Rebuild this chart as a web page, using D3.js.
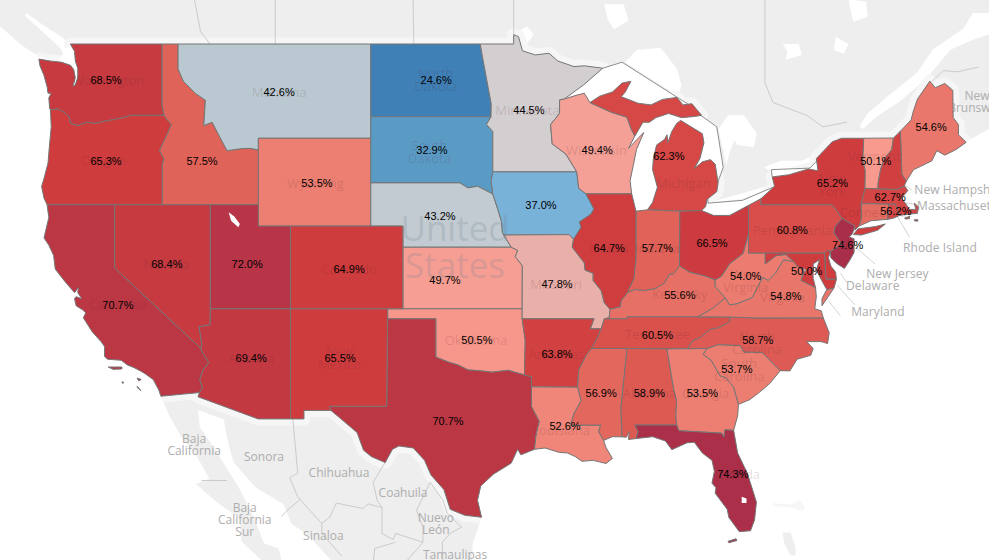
<!DOCTYPE html>
<html>
<head>
<meta charset="utf-8">
<title>US states map</title>
<script src="https://cdn.jsdelivr.net/npm/d3@7"></script>
<style>
	html, body { margin: 0; background: #fff; overflow: hidden; }
	svg { display: block; }
</style>
</head>
<body>
<script>
// values per state, parallel arrays. null label position = no printed label
const stateCodes = ["WA","OR","ID","MT","WY","ND","SD","NE","KS","OK","TX","MN","IA","MO","AR","LA","WI","IL","MI","IN","OH","KY","TN","MS","AL","GA","FL","SC","NC","VA","WV","PA","NY","VT","ME","MA","CT","NJ","CA","NV","UT","CO","AZ","NM","NH","RI","DE","MD","DC"];
const stateValues = [68.5,65.3,57.5,42.6,53.5,24.6,32.9,43.2,49.7,50.5,70.7,44.5,37.0,47.8,63.8,52.6,49.4,64.7,62.3,57.7,66.5,55.6,60.5,56.9,58.9,53.5,74.3,53.7,58.7,54.8,54.0,60.8,65.2,50.1,54.6,62.7,56.2,74.6,70.7,68.4,72.0,64.9,69.4,65.5,64,62,65,65.5,50.0];
const labelLon = [-120.54,-120.54,-114.56,-109.76,-107.4,-99.98,-100.24,-99.74,-99.43,-97.44,-99.24,-94.2,-93.45,-92.45,-92.45,-91.95,-89.95,-89.2,-85.48,-86.2,-82.8,-84.8,-86.2,-89.7,-86.7,-83.4,-81.5,-81.25,-79.95,-78.2,-80.7,-77.8,-75.3,-72.6,-69.15,-71.7,-71.35,-74.35,-119.8,-116.75,-111.75,-105.4,-111.5,-105.96,null,null,null,null,-76.9];
const labelLat = [47.5,44.0,44.0,47.0,43.0,47.5,44.47,41.48,38.4,35.43,31.2,46.23,42.0,38.2,34.72,30.95,44.47,39.95,44.2,39.95,40.2,37.7,35.7,32.7,32.7,32.7,28.35,33.95,35.43,37.65,38.6,40.8,43.0,44.0,45.5,42.35,41.7,40.1,37.2,39.2,39.2,38.95,34.5,34.5,null,null,null,null,38.85];

// fill colour stops
const colorStops = [24.6,33,37,42.6,44.5,47.8,50.1,53.5,57.5,60.8,65,68.5,70.7,72,74.5];
const colorRange = ["#3f81b7","#5a9bc6","#79b2d8","#bac9d1","#d3cfd0","#e9afa9","#f99a8e","#ec7f72","#e06359","#d94e4a","#cf3c3e","#c63a40","#bc3744","#b83548","#aa2e49"];

// shared border lines, lon/lat
const waCoast = [[-122.76,49],[-122.5,48.7],[-122.45,48.3],[-122.3,48],[-122.3,47.6],[-122.45,47.3],[-122.6,47.25],[-122.45,47.6],[-122.55,47.95],[-122.75,48.12],[-123.3,48.25],[-124,48.3],[-124.72,48.38],[-124.65,48.1],[-124.4,47.7],[-124.2,47.2],[-124.15,46.95],[-123.95,46.95],[-124.1,46.75],[-124.05,46.3],[-124,46.25]];
const orWa = [[-124,46.25],[-123.5,46.27],[-123.2,46.15],[-122.85,45.95],[-122.75,45.65],[-122.3,45.55],[-121.7,45.7],[-121.2,45.65],[-120.6,45.75],[-120,45.82],[-119.3,45.93],[-119,46],[-116.92,46]];
const waId = [[-117.04,49],[-117.04,46.42],[-116.92,46]];
const snake = [[-116.92,46],[-116.78,45.85],[-116.47,45.6],[-116.68,45.25],[-116.85,45],[-117.2,44.45],[-117.05,44.25],[-116.93,44.1],[-117.03,43.83],[-117.03,42]];
const orCoast = [[-124,46.25],[-123.95,45.5],[-124.07,44.6],[-124.15,43.9],[-124.4,43.2],[-124.55,42.84],[-124.4,42.3],[-124.21,42]];
const caCoast = [[-124.21,42],[-124.1,41.4],[-124.4,40.44],[-124.1,40.1],[-123.8,39.6],[-123.7,38.95],[-123.05,38.3],[-122.5,37.8],[-122.25,38.05],[-122.3,37.8],[-122.05,37.5],[-122.4,37.6],[-122.5,37.5],[-122.4,37.15],[-122,36.95],[-121.8,36.8],[-121.95,36.55],[-121.4,35.85],[-120.85,35.35],[-120.63,35.1],[-120.63,34.6],[-120.45,34.45],[-119.6,34.4],[-119.2,34.15],[-118.8,34.02],[-118.4,33.85],[-118.1,33.7],[-117.6,33.4],[-117.25,32.85],[-117.12,32.53]];
const caMex = [[-117.12,32.53],[-114.72,32.72]];
const coloRiver = [[-114.72,32.72],[-114.53,33],[-114.7,33.4],[-114.5,33.9],[-114.14,34.28],[-114.57,34.85],[-114.63,35]];
const nvAz = [[-114.63,35],[-114.57,35.2],[-114.74,36.1],[-114.05,36.2],[-114.04,37]];
const caNv = [[-114.63,35],[-120,39],[-120,42]];
const azMex = [[-114.72,32.72],[-114.81,32.5],[-111.07,31.33],[-109.05,31.33]];
const idMt = [[-116.05,49],[-116.05,47.97],[-115.72,47.45],[-114.95,46.93],[-114.35,46.65],[-114.45,45.56],[-113.93,45.7],[-113.45,45.05],[-113,44.45],[-112,44.55],[-111.5,44.55],[-111.05,44.48]];
const mtWy = [[-104.05,45],[-111.05,45],[-111.05,44.48]];
const sdNd = [[-104.05,45.94],[-96.56,45.94]];
const ndMn = [[-97.23,49],[-97.1,48.5],[-96.85,47.6],[-96.55,46.5],[-96.56,45.94]];
const sdMn = [[-96.56,45.94],[-96.84,45.6],[-96.45,45.3],[-96.45,43.5]];
const sdIa = [[-96.45,43.5],[-96.55,43.1],[-96.45,42.49]];
const sdNe = [[-96.45,42.49],[-97.4,42.85],[-98,42.77],[-98.5,43],[-104.05,43]];
const neIa = [[-96.45,42.49],[-96.1,41.7],[-95.9,41.2],[-95.85,40.7],[-95.77,40.58]];
const neMo = [[-95.77,40.58],[-95.3,40]];
const ks40 = [[-95.3,40],[-102.05,40]];
const ksMo = [[-95.3,40],[-94.9,39.85],[-95.05,39.55],[-94.61,39.11],[-94.62,37]];
const redRiver = [[-100,34.56],[-99.2,34.3],[-98.6,34.15],[-98,33.9],[-97.2,33.85],[-96.5,33.78],[-95.5,33.88],[-94.48,33.64]];
const okAr = [[-94.62,36.5],[-94.43,35.4],[-94.48,33.64]];
const txLa = [[-94.04,33.02],[-94.04,32],[-93.55,31.2],[-93.75,30.5],[-93.85,29.7]];
const txCoast = [[-93.85,29.7],[-94.7,29.4],[-94.9,29.7],[-95.3,28.95],[-96.4,28.35],[-97.2,27.7],[-97.4,26.9],[-97.15,25.96]];
const rio = [[-97.15,25.96],[-98.2,26.07],[-99.1,26.4],[-99.5,27.5],[-100.3,28.3],[-100.7,29.1],[-101.4,29.77],[-102.3,29.88],[-102.7,29.7],[-103.15,28.98],[-104,29.3],[-104.5,29.65],[-104.9,30.6],[-106,31.4],[-106.53,31.78]];
const arTn = [[-89.7,36],[-89.95,35.5],[-90.3,35]];
const arMs = [[-90.3,35],[-90.6,34.7],[-91.1,33.9],[-91.17,33]];
const laMs = [[-91.17,33],[-90.95,32.3],[-91.4,31.6],[-91.6,31]];
const msLa = [[-89.55,30.18],[-89.85,30.65],[-89.73,31],[-91.6,31]];
const laCoast = [[-93.85,29.7],[-93.2,29.77],[-92.3,29.53],[-91.8,29.5],[-91.3,29.3],[-90.9,29.05],[-90.2,29.1],[-89.4,28.93],[-89,29.2],[-89.4,29.8],[-89.55,30.18]];
const moIl = [[-91.42,40.38],[-91.5,40],[-90.75,39.25],[-90.7,38.9],[-90.2,38.75],[-90.2,38.4],[-89.7,37.9],[-89.5,37.3],[-89.15,36.97]];
const iaWi = [[-91.22,43.5],[-91.1,42.75],[-90.65,42.5]];
const iaIl = [[-90.65,42.5],[-90.15,41.8],[-90.35,41.55],[-91.05,41.2],[-90.95,40.95],[-91.42,40.38]];
const mnTop = [[-97.23,49],[-95.15,49],[-95.15,49.38],[-94.85,49.3],[-94.6,48.72],[-93.8,48.55],[-92.95,48.62],[-92.4,48.3],[-91.4,48.07],[-90.75,48.1],[-89.6,48],[-90.8,47.3],[-92,46.7]];
const mnWi = [[-92,46.7],[-92.29,46.66],[-92.29,46.08],[-92.85,45.6],[-92.75,44.75],[-91.9,44.3],[-91.22,43.5]];
const wiSup = [[-92,46.7],[-91.2,46.87],[-90.75,46.95],[-90.4,46.55]];
const wiUp = [[-90.4,46.55],[-89.1,46.14],[-88.1,45.92],[-87.8,45.35],[-87.6,45.1]];
const wiLake = [[-87.6,45.1],[-88,44.55],[-87.4,45],[-87.05,45.25],[-87.5,44.5],[-87.7,43.8],[-87.9,43.1],[-87.8,42.5]];
const wiIl = [[-87.8,42.5],[-90.65,42.5]];
const ilIn = [[-87.52,41.7],[-87.53,39.35],[-87.6,39],[-87.65,38.5],[-87.95,38],[-88.05,37.8]];
const ilKy = [[-88.05,37.8],[-88.45,37.4],[-88.5,37.1],[-89.15,36.97]];
const inKy = [[-84.82,39.1],[-85.2,38.7],[-85.45,38.7],[-85.75,38.27],[-86.3,38],[-87,37.9],[-87.6,37.95],[-88.05,37.8]];
const ohWv = [[-80.52,40.64],[-80.85,39.7],[-81.7,39.2],[-82.2,38.6],[-82.6,38.42]];
const ohKy = [[-82.6,38.42],[-83.2,38.6],[-84.2,38.8],[-84.82,39.1]];
const kyWv = [[-82.6,38.42],[-82.6,38.1],[-81.97,37.54]];
const kyVa = [[-81.97,37.54],[-82.7,37.05],[-83.68,36.6]];
const kyTn = [[-83.68,36.6],[-88.07,36.6],[-88.07,36.5],[-89.5,36.5]];
const tnSouth = [[-90.3,35],[-88.2,35],[-85.6,34.98],[-84.32,34.99]];
const tnNc = [[-84.32,34.99],[-84,35.4],[-83.5,35.57],[-82.95,35.95],[-82.4,36.05],[-81.7,36.35],[-81.68,36.59]];
const ncGa = [[-84.32,34.99],[-83.11,35]];
const ncSc = [[-83.11,35],[-82.4,35.2],[-81.05,35.15],[-80.8,34.82],[-79.67,34.8],[-78.55,33.86]];
const ncCoast = [[-78.55,33.86],[-77.95,33.85],[-77.5,34.45],[-76.65,34.65],[-76.5,35],[-76.9,35.35],[-76,35.35],[-75.6,35.25],[-75.5,35.8],[-75.87,36.55]];
const gaSc = [[-83.11,35],[-83.35,34.7],[-82.85,34.4],[-82.3,33.6],[-81.95,33.5],[-81.45,33],[-81.15,32.1]];
const scCoast = [[-81.15,32.1],[-80.45,32.35],[-79.9,32.7],[-79.2,33.2],[-78.55,33.86]];
const gaCoast = [[-81.15,32.1],[-81.2,31.5],[-81.45,30.72]];
const gaFl = [[-81.45,30.72],[-82,30.75],[-82.05,30.36],[-82.2,30.57],[-84.86,30.7]];
const alGa = [[-85.6,34.98],[-85.18,32.87],[-85,32.3],[-85.05,31.5],[-85,31]];
const flCoast = [[-81.45,30.72],[-81.2,29.5],[-80.6,28.4],[-80.03,26.8],[-80.15,25.8],[-80.4,25.2],[-81.1,25.15],[-81.75,25.95],[-81.85,26.4],[-82.6,27.3],[-82.55,27.6],[-82.8,27.85],[-82.65,28.5],[-82.8,29.1],[-83.4,29.5],[-83.9,30.08],[-84.35,30.05],[-85.3,29.68],[-85.7,30.15],[-86.5,30.38],[-87.52,30.28]];
const alGulf = [[-87.52,30.28],[-88,30.23],[-87.95,30.65],[-88.13,30.35],[-88.4,30.37]];
const msAl = [[-88.4,30.37],[-88.47,31.9],[-88.1,34.89],[-88.2,35]];
const msCoast = [[-88.4,30.37],[-89,30.38],[-89.55,30.18]];
const vaWv = [[-77.72,39.32],[-78.35,39.4],[-78.85,38.75],[-79.3,38.4],[-79.65,38.55],[-80.3,37.55],[-81.25,37.25],[-81.7,37.2],[-81.97,37.54]];
const vaCoast = [[-75.87,36.55],[-76,36.9],[-76.4,37],[-76.3,37.6],[-76.35,38.05]];
const potomac = [[-76.35,38.05],[-77,38.3],[-77.25,38.4],[-77.05,38.85],[-77.5,39.1],[-77.72,39.32]];
const mdWv = [[-77.72,39.32],[-78.2,39.65],[-78.8,39.6],[-79.48,39.2],[-79.48,39.72]];
const mdCoast = [[-75.05,38.45],[-75.2,38.03],[-75.65,37.95],[-75.9,38.3],[-76.3,38.9],[-76.1,39.4],[-76.5,39.2],[-76.5,38.5],[-76.35,38.05]];
const deBay = [[-75.42,39.8],[-75.55,39.5],[-75.4,39.1],[-75.1,38.8],[-75.05,38.45]];
const njDel = [[-74.7,41.36],[-75.13,40.98],[-75.2,40.68],[-74.72,40.15],[-75.42,39.8]];
const njBay = [[-75.42,39.8],[-75.4,39.5],[-75,39.2],[-74.55,38.98]];
const nyLakes = [[-79.76,42.27],[-78.9,42.85],[-79.05,43.27],[-78,43.37],[-76.8,43.63],[-76.2,43.55],[-76.3,44.1],[-75.3,44.85],[-74.7,45],[-73.35,45]];
const nyVt = [[-73.35,45],[-73.4,44],[-73.25,43.55],[-73.27,42.75]];
const vtNh = [[-71.5,45.01],[-71.6,44.5],[-72.05,44.1],[-72.3,43.6],[-72.45,43],[-72.46,42.73]];
const nhMe = [[-71.08,45.3],[-71.03,44.65],[-70.98,43.4],[-70.7,43.07]];
const nhMa = [[-70.82,42.87],[-71.3,42.7],[-72.46,42.73]];
const meNorth = [[-71.08,45.3],[-70.4,45.8],[-70.25,46.2],[-70,46.7],[-69.23,47.46],[-68.9,47.18],[-68.3,47.36],[-67.8,47.07],[-67.78,45.9],[-67.45,45.6],[-67.45,45.15],[-66.97,44.82]];
const meCoast = [[-66.97,44.82],[-67.6,44.5],[-68.3,44.25],[-68.8,44.45],[-69.1,44],[-69.8,43.75],[-70.25,43.6],[-70.7,43.07]];
const maCoast = [[-70.82,42.87],[-70.6,42.65],[-71,42.3],[-70.65,41.95],[-70.5,41.78],[-70.1,41.78],[-70.2,42.07],[-69.95,41.9],[-70,41.6],[-70.65,41.55],[-71.13,41.5]];

const rev = (a) => a.slice().reverse();
const ring = (...parts) => parts.flat();

// one list of rings per state
const stateRings = {
	WA: [ring([[-122.76,49],[-117.04,49]], waId, rev(orWa), rev(waCoast))],
	OR: [ring(orWa, snake, [[-124.21,42]], rev(orCoast))],
	ID: [ring([[-117.04,49],[-116.05,49]], idMt, [[-111.05,42],[-117.03,42]], rev(snake), rev(waId))],
	MT: [ring([[-116.05,49],[-104.05,49]], mtWy, rev(idMt))],
	WY: [ring(rev(mtWy), [[-104.05,41],[-111.05,41],[-111.05,42]])],
	ND: [ring([[-104.05,49]], ndMn, rev(sdNd))],
	SD: [ring(sdNd, sdMn, sdIa, sdNe)],
	NE: [ring(rev(sdNe), neIa, neMo, ks40, [[-102.05,41],[-104.05,41]])],
	KS: [ring(rev(ks40), ksMo, [[-102.05,37]])],
	OK: [ring([[-103,37],[-94.62,37]], okAr, rev(redRiver), [[-100,36.5],[-103,36.5]])],
	TX: [ring([[-103,36.5],[-100,36.5]], redRiver, [[-94.04,33.55]], txLa, txCoast, rio, [[-106.62,32],[-103.06,32]])],
	MN: [ring(mnTop, mnWi, [[-96.45,43.5]], rev(sdMn), rev(ndMn))],
	IA: [ring([[-96.45,43.5]], iaWi, iaIl, [[-91.7,40.6]], rev(neIa), rev(sdIa))],
	MO: [ring([[-95.77,40.58],[-91.7,40.6]], moIl, [[-89.2,36.55],[-89.5,36.5],[-89.7,36],[-90.38,36],[-90.15,36.5],[-94.62,36.5]], rev(ksMo), rev(neMo))],
	AR: [ring([[-94.62,36.5],[-90.15,36.5],[-90.38,36]], arTn, arMs, [[-94.04,33.02],[-94.04,33.55]], rev(okAr))],
	LA: [ring(txLa.slice(0,1), laMs, rev(msLa), rev(laCoast), rev(txLa))],
	WI: [ring(wiSup, wiUp, wiLake, wiIl, rev(iaWi), rev(mnWi))],
	IL: [ring(rev(wiIl), [[-87.55,41.75]], ilIn, ilKy, rev(moIl), rev(iaIl))],
	MI: [
		ring([[-90.4,46.55],[-89.8,46.82],[-89,47],[-88.4,47.38],[-87.85,47.45],[-88.2,47],[-88.45,46.8],[-87.4,46.52],[-86.6,46.45],[-85.9,46.68],[-85,46.77],[-84.6,46.45],[-84.05,46.5],[-83.45,46],[-83.9,45.95],[-84.7,45.9],[-85.5,46.08],[-86.3,45.9],[-86.7,45.7],[-87.1,45.7],[-87.6,45.1]], rev(wiUp)),
		[[-86.82,41.76],[-86.5,42.1],[-86.2,42.8],[-86.5,43.6],[-86.45,44.1],[-86.25,44.7],[-85.75,44.95],[-85.6,45.15],[-85.55,44.8],[-85.3,45.3],[-85,45.65],[-84.75,45.78],[-84.1,45.5],[-83.4,45.2],[-83.3,44.8],[-83.55,44.1],[-83.9,43.65],[-83.4,43.95],[-82.9,44.05],[-82.6,43.85],[-82.42,43],[-82.5,42.6],[-83.1,42.25],[-83.2,41.9],[-83.45,41.73],[-84.8,41.7]]
	],
	IN: [ring([[-87.52,41.7],[-86.82,41.76],[-84.8,41.7]], inKy, rev(ilIn))],
	OH: [ring([[-84.8,41.7],[-83.45,41.73],[-82.7,41.5],[-81.7,41.5],[-80.52,41.97]], ohWv, ohKy)],
	KY: [ring(rev(inKy), rev(ohKy), kyWv, kyVa, kyTn, [[-89.2,36.55]], rev(ilKy))],
	TN: [ring(tnNc.slice(-1), kyTn, arTn, tnSouth, tnNc)],
	MS: [ring(tnSouth.slice(0,2), rev(msAl), msCoast, msLa, rev(laMs), rev(arMs))],
	AL: [ring([[-88.2,35]], alGa, [[-87.6,31],[-87.4,30.65]], alGulf, msAl)],
	GA: [ring(alGa.slice(0,1), [[-84.32,34.99]], ncGa, gaSc, gaCoast, gaFl, [[-85,31]], rev(alGa))],
	FL: [
		ring([[-85,31]], rev(gaFl), flCoast, [[-87.4,30.65],[-87.6,31]]),
		[[-81.8,24.6],[-81.3,24.75],[-81.25,24.65],[-81.75,24.52]]
	],
	SC: [ring(ncSc, rev(scCoast), rev(gaSc))],
	NC: [ring([[-75.87,36.55],[-80,36.54]], rev(tnNc), ncGa, ncSc, ncCoast)],
	VA: [
		ring(vaWv, kyVa, [[-81.68,36.59],[-80,36.54]], vaCoast, potomac),
		[[-75.65,37.95],[-75.2,38.03],[-75.95,37.15],[-75.95,37.5]]
	],
	WV: [ring([[-80.52,40.64],[-80.52,39.72]], rev(mdWv), vaWv, rev(kyWv), rev(ohWv))],
	PA: [ring([[-80.52,41.97],[-79.76,42.27],[-79.76,42],[-75.35,42],[-75.05,41.75]], njDel, [[-75.6,39.84],[-75.79,39.72],[-80.52,39.72]])],
	NY: [
		ring(nyLakes, nyVt, [[-73.5,42.05],[-73.5,41.3],[-73.65,41],[-73.9,40.8],[-73.9,41],[-74.7,41.36],[-75.05,41.75],[-75.35,42],[-79.76,42]]),
		[[-74,40.6],[-73.7,40.87],[-72.6,40.98],[-72,41.1],[-72.5,40.8],[-73.5,40.58]]
	],
	VT: [ring([[-73.35,45]], vtNh, [[-73.27,42.75]], rev(nyVt))],
	NH: [ring([[-71.5,45.01]], nhMe, nhMa, rev(vtNh))],
	ME: [ring(meNorth, meCoast, rev(nhMe))],
	MA: [
		ring(rev(nhMa), maCoast, [[-71.38,42.02],[-71.8,42.02],[-73.5,42.05],[-73.27,42.75]]),
		[[-70.8,41.38],[-70.5,41.45],[-70.5,41.35],[-70.75,41.33]],
		[[-70.2,41.3],[-69.97,41.3],[-70,41.23],[-70.2,41.25]]
	],
	RI: [[[-71.8,42.02],[-71.38,42.02],[-71.13,41.5],[-71.5,41.37],[-71.85,41.32]]],
	CT: [[[-73.5,42.05],[-71.8,42.02],[-71.85,41.32],[-72.9,41.25],[-73.65,41],[-73.5,41.3]]],
	NJ: [ring([[-74.7,41.36],[-73.9,41],[-74.05,40.65],[-74.25,40.48],[-73.95,40.4],[-73.95,39.75],[-74.2,39.4],[-74.55,38.98]], rev(njBay), rev(njDel))],
	DE: [ring([[-75.79,39.72],[-75.6,39.84]], deBay, [[-75.7,38.46]])],
	MD: [ring([[-79.48,39.72],[-75.79,39.72],[-75.7,38.46]], mdCoast, potomac, mdWv)],
	DC: [[[-77.12,38.93],[-77.04,39],[-76.91,38.89],[-77.04,38.8]]],
	CA: [
		ring([[-124.21,42],[-120,42]], rev(caNv), rev(coloRiver), rev(caMex), rev(caCoast)),
		[[-120.4,34.05],[-120,34.05],[-119.55,34.05],[-119.55,33.95],[-120.1,33.93]],
		[[-118.6,33.48],[-118.35,33.4],[-118.5,33.33]],
		[[-118.6,33.05],[-118.45,32.9],[-118.35,32.82],[-118.55,32.95]],
		[[-119.55,33.28],[-119.42,33.25],[-119.5,33.2]]
	],
	NV: [ring([[-120,42],[-114.04,42],[-114.04,37]], rev(nvAz), caNv)],
	UT: [[[-114.04,42],[-111.05,42],[-111.05,41],[-109.05,41],[-109.05,37],[-114.04,37]]],
	CO: [[[-109.05,41],[-102.05,41],[-102.05,37],[-109.05,37]]],
	AZ: [ring([[-114.04,37],[-109.05,37]], rev(azMex), coloRiver, nvAz)],
	NM: [[[-109.05,37],[-103,37],[-103,36.5],[-103.06,32],[-106.62,32],[-106.53,31.78],[-108.21,31.78],[-108.21,31.33],[-109.05,31.33]]]
};

// base map land
const canadaLand = [[-135,60],[-135,52],[-127.2,49.75],[-125.8,48.95],[-124.75,48.5],[-123.45,48.3],[-123.2,48.65],[-122.76,49],[-95.15,49],[-95.15,49.38],[-94.85,49.3],[-94.6,48.72],[-93.8,48.55],[-92.95,48.62],[-92.4,48.3],[-91.4,48.07],[-90.75,48.1],[-89.6,48],[-88.4,48.25],[-84.8,46.7],[-84,46.36],[-83.5,46],[-82.5,45.5],[-82.1,43.7],[-82.45,43],[-83.05,42.3],[-83.05,42.07],[-80.9,42.2],[-78.9,42.83],[-79.1,43.6],[-76.7,43.67],[-76.2,44.05],[-74.8,45],[-73.35,45],[-71.5,45.01],[-71.08,45.3],[-70.4,45.8],[-70.25,46.2],[-70,46.7],[-69.23,47.46],[-68.9,47.18],[-68.3,47.36],[-67.8,47.07],[-67.78,45.9],[-67.45,45.6],[-67.45,45.15],[-66.97,44.85],[-66.1,45.2],[-65,45.6],[-60,46],[-60,60]];
const mexicoLand = [[-117.12,32.53],[-116.6,31.5],[-115.8,30.3],[-115,29.5],[-114.1,28.1],[-114.95,27.8],[-113.5,26.7],[-112.2,25.9],[-112.1,24.6],[-110.5,23.2],[-109.5,23],[-109.5,23.1],[-109.8,24.2],[-110.7,24.5],[-111.3,25.9],[-112.2,27.5],[-112.9,28.5],[-113.6,29.5],[-114.7,30.9],[-114.8,31.8],[-113.2,31.3],[-113,30.3],[-112.6,29],[-111.2,27.6],[-109.5,26.7],[-109,25.6],[-108,25],[-107,24],[-106,23],[-105,21],[-97.7,21],[-97.8,22.5],[-97.7,24.5],[-97.15,25.96],[-98.2,26.07],[-99.1,26.4],[-99.5,27.5],[-100.3,28.3],[-100.7,29.1],[-101.4,29.77],[-102.3,29.88],[-102.7,29.7],[-103.15,28.98],[-104,29.3],[-104.5,29.65],[-104.9,30.6],[-106,31.4],[-106.53,31.78],[-108.21,31.78],[-108.21,31.33],[-111.07,31.33],[-114.81,32.5],[-114.72,32.72]];
const bahamas = [[[-78.4,25.1],[-77.9,25.1],[-77.6,24.3],[-77.6,23.8],[-77.9,23.8],[-78.3,24.5]]];
const faintIslands = [[[-79,26.75],[-77.9,26.65],[-77.3,26.9],[-77,26.5],[-77.2,26.3],[-77.9,26.5],[-79,26.6]]];

// water drawn over the land
const waterPatches = [
	[[-123.2,48.6],[-122.9,48.95],[-123.2,49.25],[-124.3,49.7],[-125.5,50.25],[-125.6,50.15],[-125,49.8],[-124,49.2],[-123.4,48.85]],
	[[-65.55,50.25],[-66.55,50.25],[-67.15,49.63],[-69.05,48.76],[-70.05,47.8],[-71.9,46.8],[-73.15,46.06],[-73.6,45.5],[-73.4,45.4],[-72.5,45.97],[-71.1,46.6],[-69.4,47.6],[-67.95,48.76],[-66.7,49.13],[-65.55,49.4]],
	[[-88.2,48.25],[-87.5,48.75],[-86,48.85],[-85,48],[-84.7,47.3],[-84.9,46.85],[-86,47.3],[-87.3,47.85]],
	[[-82.4,45.4],[-81.8,46],[-80.8,46],[-80,45.2],[-80.2,44.6],[-81.2,44.7],[-81.7,45.2],[-81.4,44.9],[-81.7,44.4],[-81.9,43.8]],
	[[-83,42.1],[-81,42.5],[-80.3,42.65],[-79.2,42.9],[-78.95,42.85],[-80.9,42.25]],
	[[-79.1,43.55],[-79.6,43.7],[-78.5,44],[-77.2,44],[-76.4,44.25],[-76.25,44.1],[-76.7,43.7]],
	[[-95.1,49.45],[-94.3,49.7],[-93.9,49.4],[-94.4,48.95],[-94.85,49.1]],
	[[-89.5,50.6],[-88.3,50.6],[-88,49.95],[-88.9,49.6],[-89.3,50]],
	[[-78.4,49],[-77.4,49],[-77.2,48.55],[-78.2,48.35],[-78.1,48.7]],
	[[-74.3,50.8],[-73.2,50.7],[-73.1,50.1],[-74,49.9]],
	[[-75.1,49.3],[-74.3,49],[-74.6,48.6],[-75.2,48.75]],
	[[-99.2,51.8],[-98.6,51.8],[-98.5,51.2],[-98.9,51.15]],
	[[-97.9,51.8],[-97.2,51.8],[-97,51.3],[-97.6,51.25]],
	[[-94.6,51.8],[-93.4,51.8],[-93.2,51.35],[-94.2,51.25]]
];
// lakes inside the states
const stateLakes = [
	[[-112.9,41.65],[-112.55,41.45],[-112.2,41.1],[-112.3,40.95],[-112.75,41.25]],
	[[-80.95,27.1],[-80.65,27],[-80.65,26.75],[-80.95,26.75]]
];

// thin province and state lines on the base map
const adminLines = [
	[[-115.4,52],[-114.65,49.5],[-114.05,49]],
	[[-110,52],[-110,49]],
	[[-101.45,52],[-101.37,49]],
	[[-95.15,52],[-95.15,49.4]],
	[[-79.5,52],[-79.5,47.4],[-79,46.55],[-76.9,46],[-75.9,45.5],[-74.4,45.7]],
	[[-69.1,47.45],[-68.4,47.9],[-67.5,47.85],[-66.2,48.05]],
	[[-108.9,31.33],[-108.6,28.4],[-109.1,28.15],[-108.6,27.1],[-108.45,26.95],[-107.1,25.6],[-107.1,25.05],[-105.85,23.75]],
	[[-108.45,26.95],[-109.3,26.3],[-109.6,26]],
	[[-107.1,25.6],[-106.6,25.97],[-106.2,26.75],[-104.55,26.45],[-104.2,26.7],[-103.35,26.5],[-103.65,26.9],[-103.9,27.9],[-103.15,29]],
	[[-103.35,26.5],[-103.35,25.05],[-102.65,24.7],[-102.5,25.05],[-100.8,24.55],[-100.8,25.4],[-101.2,26.35],[-100.35,27.9],[-99.55,26.9],[-99.3,26.2],[-98.4,25.4],[-99.1,25.05],[-99.6,24.55],[-99.55,23.4]],
	[[-100.8,24.55],[-101.8,23.5]],
	[[-103.9,23.4],[-103.8,24.2],[-102.5,24.55]],
	[[-114.6,28],[-113,28]]
];
const lakeBorder = [[-89.6,48],[-88.4,48.25],[-84.8,46.7],[-84,46.36],[-83.5,46],[-82.5,45.5],[-82.1,43.7],[-82.45,43],[-83.05,42.3],[-83.05,42.07],[-80.9,42.2],[-78.9,42.83]];
const lakeBorderOntario = [[-79.05,43.27],[-79.1,43.6],[-76.7,43.67],[-76.2,44.05],[-74.8,45]];

// grey base map place names, [lines, lon, lat]
const placeNames = [
	[["Baja","California"],-115.05,29.94],
	[["Sonora"],-110.7,29.29],
	[["Chihuahua"],-106.03,28.45],
	[["Coahuila"],-102.04,27.3],
	[["Nuevo","León"],-100,25.6],
	[["Sinaloa"],-107,24.95],
	[["Tamaulipas"],-98.8,23.85],
	[["Baja","California","Sur"],-111.9,25.8],
	[["New","Brunswick"],-66.3,46.57]
];
// names with leader lines, [name, text lon, text lat]
const leaderNames = [
	["New Hampshire",-70.2,42.68],
	["Massachusetts",-70.03,41.95],
	["Rhode Island",-70.9,40],
	["New Jersey",-73.2,38.75],
	["Delaware",-74.45,38.13],
	["Maryland",-74.13,36.85]
];
const leaderLines = [
	[[-71.53,43.23],[-70.35,42.68]],
	[[-70.9,42.1],[-70.03,42]],
	[[-71.35,41.57],[-70.5,40.48]],
	[[-73.77,39.95],[-72.65,39.2]],
	[[-74.8,38.75],[-74.4,38.3]],
	[[-75,38.15],[-73.9,37.2]],
	[[-75.55,37.4],[-74.8,36.65]]
];
// base map state names that show through the fills
const stateNames = [
	[["Washington"],-120.4,47.5],[["Oregon"],-120.7,44],[["Montana"],-109.76,47],[["Wyoming"],-107.5,43],
	[["North","Dakota"],-100,47.5],[["South","Dakota"],-100.4,44.4],[["Minnesota"],-94.3,46.2],[["Wisconsin"],-90,44.47],
	[["Michigan"],-84.6,43],[["Nevada"],-116.75,39.2],[["Colorado"],-105.4,38.95],[["California"],-119.8,37.2],
	[["Arizona"],-111.5,34.5],[["New","Mexico"],-106,34.5],[["Oklahoma"],-97.5,35.4],[["Arkansas"],-92.5,34.7],
	[["Louisiana"],-92.2,30.7],[["Tennessee"],-86.2,35.7],[["North","Carolina"],-80,35.3],[["South","Carolina"],-81.1,33.9],
	[["Kentucky"],-84.8,37.7],[["West","Virginia"],-80.7,38.4],[["Virginia"],-78.4,37.55],[["Pennsylvania"],-77.8,40.8],
	[["New","York"],-75.3,42.9],[["Vermont"],-72.7,44.2],[["Connecticut"],-72.6,41.65],[["Missouri"],-92.5,38.2],
	[["Alabama"],-86.7,32.7],[["Georgia"],-83.2,32.7],[["Illinois"],-89.2,39.95],[["Indiana"],-86.2,39.95],[["Florida"],-81.1,28.35]
];

const w = 989, h = 560;
const svg = d3.select("body").append("svg").attr("width", w).attr("height", h);
const projection = d3.geoMercator().scale(920).translate([2041.5, 949.1]);
const outline = d3.line().x(d => projection(d)[0]).y(d => projection(d)[1]);
const closed = (r) => outline(r) + "Z";
const color = d3.scaleLinear().domain(colorStops).range(colorRange);

svg.append("rect").attr("width", w).attr("height", h).attr("fill", "#fff");

// land
const landRings = [canadaLand, mexicoLand];
svg.selectAll("path.land")
	.data(landRings.concat(bahamas))
	.enter().append("path")
	.attr("class", "land")
	.attr("d", closed)
	.attr("fill", "#eeeeee");
svg.selectAll("path.faint")
	.data(faintIslands)
	.enter().append("path")
	.attr("class", "faint")
	.attr("d", closed)
	.attr("fill", "#f6f6f6");

svg.append("clipPath").attr("id", "landClip")
	.selectAll("path").data(landRings).enter().append("path").attr("d", closed);

svg.selectAll("path.water")
	.data(waterPatches)
	.enter().append("path")
	.attr("class", "water")
	.attr("d", closed)
	.attr("fill", "#fff");

const allStateRings = stateCodes.flatMap(c => stateRings[c]);

// pale band along the border on the neighbours' side
svg.append("g").attr("clip-path", "url(#landClip)")
	.selectAll("path").data(allStateRings).enter().append("path")
	.attr("d", closed)
	.attr("fill", "none")
	.attr("stroke", "#f6f6f6")
	.attr("stroke-width", 13)
	.attr("stroke-linejoin", "round");

svg.selectAll("path.admin")
	.data(adminLines)
	.enter().append("path")
	.attr("class", "admin")
	.attr("d", outline)
	.attr("fill", "none")
	.attr("stroke", "#c6c6c6")
	.attr("stroke-width", 0.9);

svg.selectAll("path.lakeLine")
	.data([lakeBorder, lakeBorderOntario])
	.enter().append("path")
	.attr("class", "lakeLine")
	.attr("d", outline)
	.attr("fill", "none")
	.attr("stroke", "#8f8f8f")
	.attr("stroke-width", 1);

// leader lines and outside names
svg.selectAll("path.leader")
	.data(leaderLines)
	.enter().append("path")
	.attr("class", "leader")
	.attr("d", outline)
	.attr("fill", "none")
	.attr("stroke", "#cfcfcf")
	.attr("stroke-width", 0.9);

const baseFont = "'Open Sans', 'Noto Sans', sans-serif";
const multiLine = (sel, size, leading) => {
	sel.attr("font-family", baseFont)
		.attr("font-size", size)
		.attr("text-anchor", "middle")
		.attr("transform", d => "translate(" + projection([d[1], d[2]]) + ")");
	sel.selectAll("tspan")
		.data(d => d[0].map((t, i) => ({ t: t, i: i, n: d[0].length })))
		.enter().append("tspan")
		.attr("x", 0)
		.attr("y", d => (d.i - (d.n - 1) / 2) * leading + size * 0.36)
		.text(d => d.t);
};

svg.selectAll("text.place")
	.data(placeNames)
	.enter().append("text")
	.attr("class", "place")
	.attr("fill", "#adadad")
	.call(multiLine, 12, 12);

svg.selectAll("text.leaderName")
	.data(leaderNames)
	.enter().append("text")
	.attr("class", "leaderName")
	.attr("x", d => projection([d[1], d[2]])[0])
	.attr("y", d => projection([d[1], d[2]])[1] + 4.5)
	.attr("font-family", baseFont)
	.attr("font-size", 12)
	.attr("letter-spacing", 0.1)
	.attr("fill", "#adadad")
	.text(d => d[0]);

// states
svg.selectAll("g.state")
	.data(stateCodes)
	.enter().append("g")
	.attr("class", "state")
	.attr("fill", (d, i) => color(stateValues[i]))
	.selectAll("path")
	.data(d => stateRings[d])
	.enter().append("path")
	.attr("d", closed)
	.attr("stroke", "#757575")
	.attr("stroke-width", 1)
	.attr("stroke-linejoin", "round");

svg.selectAll("path.stateLake")
	.data(stateLakes)
	.enter().append("path")
	.attr("class", "stateLake")
	.attr("d", closed)
	.attr("fill", "#fff");

// base map names showing through
svg.selectAll("text.stateName")
	.data(stateNames)
	.enter().append("text")
	.attr("class", "stateName")
	.attr("fill", "#5a2030")
	.attr("fill-opacity", 0.17)
	.call(multiLine, 13, 13);

const country = svg.append("text")
	.datum([["United","States"],-98.8,40])
	.attr("fill", "#6f8090")
	.attr("fill-opacity", 0.24);
country.call(multiLine, 35, 37);

// value labels
svg.selectAll("text.value")
	.data(stateCodes.map((c, i) => i).filter(i => labelLon[i] !== null))
	.enter().append("text")
	.attr("class", "value")
	.attr("x", i => projection([labelLon[i], labelLat[i]])[0])
	.attr("y", i => projection([labelLon[i], labelLat[i]])[1] + 4)
	.attr("text-anchor", "middle")
	.attr("font-family", "'Liberation Sans', Arial, sans-serif")
	.attr("font-size", 11)
	.attr("fill", "#000")
	.text(i => stateValues[i].toFixed(1) + "%");
</script>
</body>
</html>
